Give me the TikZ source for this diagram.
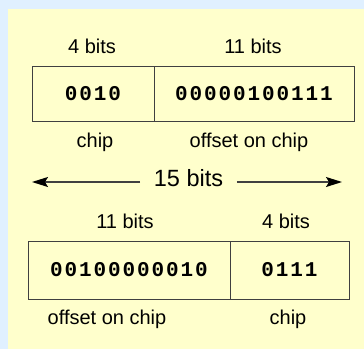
\documentclass[tikz,border=0pt]{standalone}
\usepackage{fontspec}
\setmainfont{Liberation Sans}
\newfontfamily\bitsfont{Liberation Mono}[LetterSpace=9]
\usetikzlibrary{arrows.meta}
\definecolor{paleblue}{RGB}{224,240,255}
\definecolor{cream}{RGB}{255,255,204}
\definecolor{edge}{RGB}{64,64,64}
\tikzset{
  field/.style={draw=edge, line width=1pt, inner sep=0pt, minimum height=#1,
    font=\bitsfont\bfseries\fontsize{21}{21}\selectfont},
  lbl/.style={anchor=base, inner sep=0pt, font=\fontsize{20}{20}\selectfont},
  span/.style={line width=1.4pt, draw=edge, -{Stealth[length=16pt,width=10pt,inset=3pt,black]}}
}

\begin{document}
\begin{tikzpicture}[x=1pt,y=-1pt]
				\useasboundingbox (0,0) rectangle (364,349);
				\fill[paleblue] (0,0) rectangle (364,349);
				\fill[cream] (8,9) rectangle (364,349);
				
				% first address: chip then offset
				\node[field=55pt, minimum width=122pt] (chipA) at (93,93.5) {0010};
				\node[field=55pt, minimum width=200pt] (offA) at (254,93.5) {00000100111};
				\node[lbl] (chipAbits) at (92,53) {4 bits};
				\node[lbl] (offAbits) at (253,53) {11 bits};
				\node[lbl] (chipAname) at (95,147) {chip};
				\node[lbl] (offAname) at (249,147) {offset on chip};
				
				% total width
				\node[lbl, inner xsep=13.5pt, font=\fontsize{23.5}{23.5}\selectfont] (total) at (188.5,186.7) {15 bits};
				\coordinate (totalL) at (32,182);
				\coordinate (totalR) at (342,182);
				\draw[span] (totalL -| total.west) -- (totalL);
				\draw[span] (totalR -| total.east) -- (totalR);
				
				% second address: offset then chip
				\node[field=58pt, minimum width=202pt] (offB) at (129,270) {00100000010};
				\node[field=58pt, minimum width=119pt] (chipB) at (289.5,270) {0111};
				\node[lbl] (offBbits) at (125,228) {11 bits};
				\node[lbl] (chipBbits) at (286,228) {4 bits};
				\node[lbl] (offBname) at (107,324) {offset on chip};
				\node[lbl] (chipBname) at (288,324) {chip};
			\end{tikzpicture}
\end{document}
